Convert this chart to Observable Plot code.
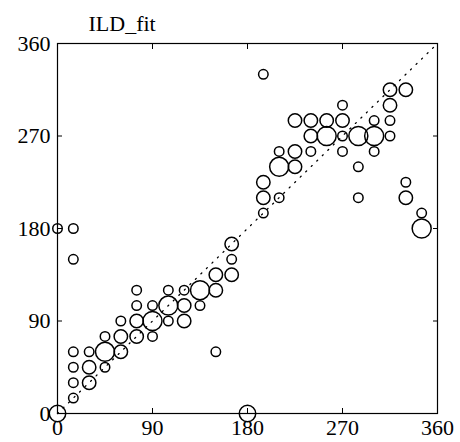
<!DOCTYPE html>
<html><head><meta charset="utf-8">
<script src="https://cdn.jsdelivr.net/npm/d3@7"></script>
<script src="https://cdn.jsdelivr.net/npm/@observablehq/plot@0.6"></script>
<style>body{margin:0;background:#fff}</style>
</head><body><div id="chart"></div>
<script>
// Observed direction (x) vs ILD-fit direction (y), degrees; n = number of coincident points
const xs = [0,180,15,15,30,15,30,45,15,30,45,60,150,45,60,75,90,60,75,90,105,120,75,90,105,120,135,75,105,120,135,150,150,165,15,165,165,0,15,345,195,345,195,210,285,330,195,330,210,225,285,210,225,240,270,300,240,255,270,285,300,315,225,240,255,270,300,315,270,315,315,330,195];
const ys = [0,0,15,30,30,45,45,45,60,60,60,60,60,75,75,75,75,90,90,90,90,90,105,105,105,105,105,120,120,120,120,120,135,135,150,150,165,180,180,180,195,195,210,210,210,210,225,225,240,240,240,255,255,255,255,255,270,270,270,270,270,270,285,285,285,285,285,285,300,300,315,315,330];
const counts = [3,3,1,1,2,1,2,1,1,1,4,2,1,1,2,2,1,1,2,4,1,2,1,1,4,2,1,1,1,1,4,2,2,2,1,1,2,1,1,4,1,1,2,1,1,2,2,1,4,2,1,1,2,1,1,1,2,4,1,4,4,1,2,2,2,2,1,1,1,2,2,2,1];
const tickValues = [0, 90, 180, 270, 360];
const diagonal = [0, 360];
const titleText = ["ILD_fit"];

const data = xs.map((x, i) => ({x, y: ys[i], n: counts[i]}));
const diag = diagonal.map(v => ({x: v, y: v}));

const chart = Plot.plot({
  width: 460, height: 442,
  marginLeft: 57, marginRight: 23, marginTop: 43, marginBottom: 29,
  style: {fontFamily: "'Liberation Serif', 'Times New Roman', serif", fontSize: "22px", background: "#fff", color: "#000", overflow: "visible"},
  x: {domain: [0, 360]},
  y: {domain: [0, 360]},
  r: {type: "sqrt", domain: [0, 4], range: [0, 9.5]},
  marks: [
    Plot.line(diag, {x: "x", y: "y", stroke: "#000", strokeWidth: 1.3, strokeDasharray: "1.2,6.5"}),
    Plot.dot(data, {x: "x", y: "y", r: "n", stroke: "#000", strokeWidth: 1.5, fill: "none"}),
    Plot.frame({stroke: "#000", strokeWidth: 1.2}),
    Plot.axisX(tickValues, {anchor: "bottom", tickSize: -5, tickPadding: 11, label: null}),
    Plot.axisX(tickValues, {anchor: "top", tickSize: -5, tickFormat: () => "", label: null}),
    Plot.axisY(tickValues, {anchor: "left", tickSize: -5, tickPadding: 12, label: null}),
    Plot.axisY(tickValues, {anchor: "right", tickSize: -5, tickFormat: () => "", label: null}),
    Plot.text(titleText, {frameAnchor: "top-left", dx: 31, dy: -13, lineAnchor: "bottom", textAnchor: "start", fontSize: 22})
  ]
});
document.getElementById("chart").appendChild(chart);
</script>
</body></html>
